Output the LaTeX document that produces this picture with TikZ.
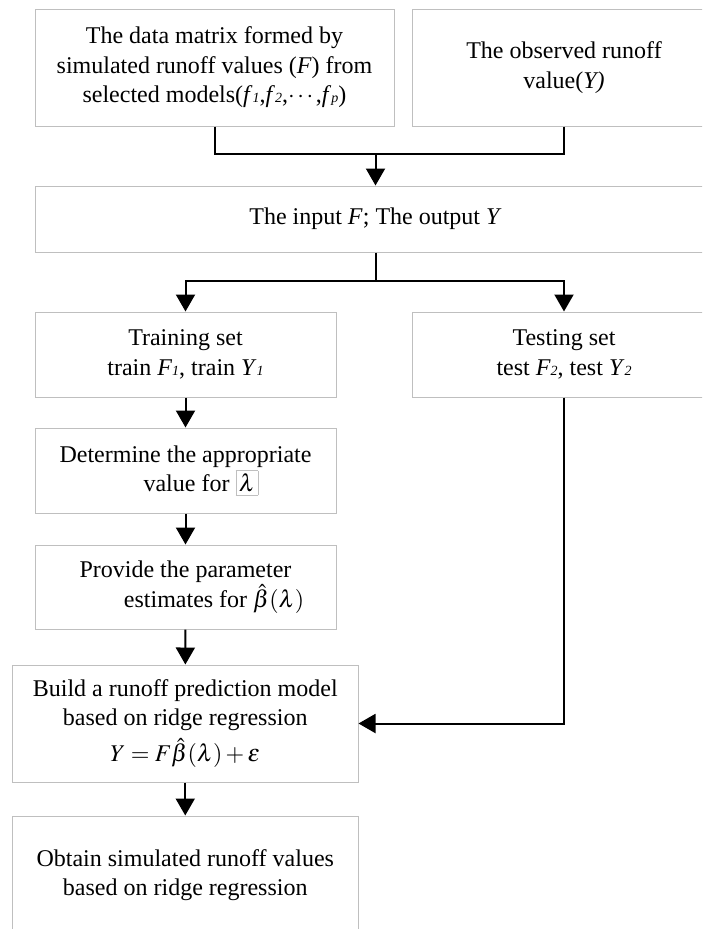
\documentclass[tikz,border=0pt]{standalone}
\usepackage{amsmath}
\usepackage{mathptmx}
\usepackage[no-math]{fontspec}
\setmainfont{Liberation Serif}
\usepackage{tikz}
\usetikzlibrary{arrows.meta,positioning,calc}
\newcommand{\sbs}[1]{{\fontsize{14}{14}\selectfont\textit{#1}}}
\setlength{\fboxsep}{3pt}

\begin{document}
\begin{tikzpicture}[x=1pt,y=-1pt,
        box/.style={draw=black!25, line width=1pt, align=center, inner sep=0pt, font=\fontsize{24}{29.5}\selectfont},
        flow/.style={line width=2pt},
        arr/.style={flow, -{Triangle[length=17pt,width=19pt]}}]
                \useasboundingbox (0,0) rectangle (702,929);
                \clip (0,0) rectangle (702,929);
                \node[box, minimum width=359pt, minimum height=117pt] (data) at (214.5,67.5) {The data matrix formed by\\simulated runoff values (\textit{F}) from\\selected models(\textit{f}\sbs{1},\textit{f}\sbs{2},$\cdots$,\textit{f}\sbs{p})};
                \node[box, minimum width=304pt, minimum height=117pt] (obs) at (564,67.5) {The observed runoff\\value(\textit{Y)}};
                \node[box, minimum width=681pt, minimum height=66pt] (io) at (375.5,219) {The input \textit{F}; The output \textit{Y}};
                \node[box, minimum width=301pt, minimum height=85pt] (train) at (185.5,354.5) {Training set\\train \textit{F}\sbs{1}, train \textit{Y}\sbs{1}};
                \node[box, minimum width=304pt, minimum height=85pt] (test) at (564,354.5) {Testing set\\test \textit{F}\sbs{2}, test \textit{Y}\sbs{2}};
                \node[box, minimum width=301pt, minimum height=85pt] (lam) at (185.5,470.5) {Determine the appropriate\\\hspace*{31pt}value for \fcolorbox{black!25}{white}{$\lambda$}};
                \node[box, minimum width=301pt, minimum height=84pt] (est) at (185.5,587) {Provide the parameter\\\hspace*{57pt}estimates for $\hat{\beta}(\lambda)$};
                \node[box, minimum width=345.5pt, minimum height=117pt] (build) at (185.25,723.5) {Build a runoff prediction model\\based on ridge regression\\[6pt]$Y=F\hat{\beta}(\lambda)+\varepsilon$};
                \node[box, minimum width=345.5pt, minimum height=118pt] (sim) at (185.25,875) {Obtain simulated runoff values\\based on ridge regression};
                \coordinate (join) at (375.5,154);
                \coordinate (split) at (375.5,281);
                \draw[flow] (data.south) |- (join);
                \draw[flow] (obs.south) |- (join);
                \draw[arr] (join) -- (io.north);
                \draw[flow] (io.south) -- (split);
                \draw[arr] (split) -| (train.north);
                \draw[arr] (split) -| (test.north);
                \draw[arr] (train) -- (lam);
                \draw[arr] (lam) -- (est);
                \draw[arr] (est) -- (build);
                \draw[arr] (build) -- (sim);
                \draw[arr] (test.south) |- (build.east);
            \end{tikzpicture}
\end{document}
